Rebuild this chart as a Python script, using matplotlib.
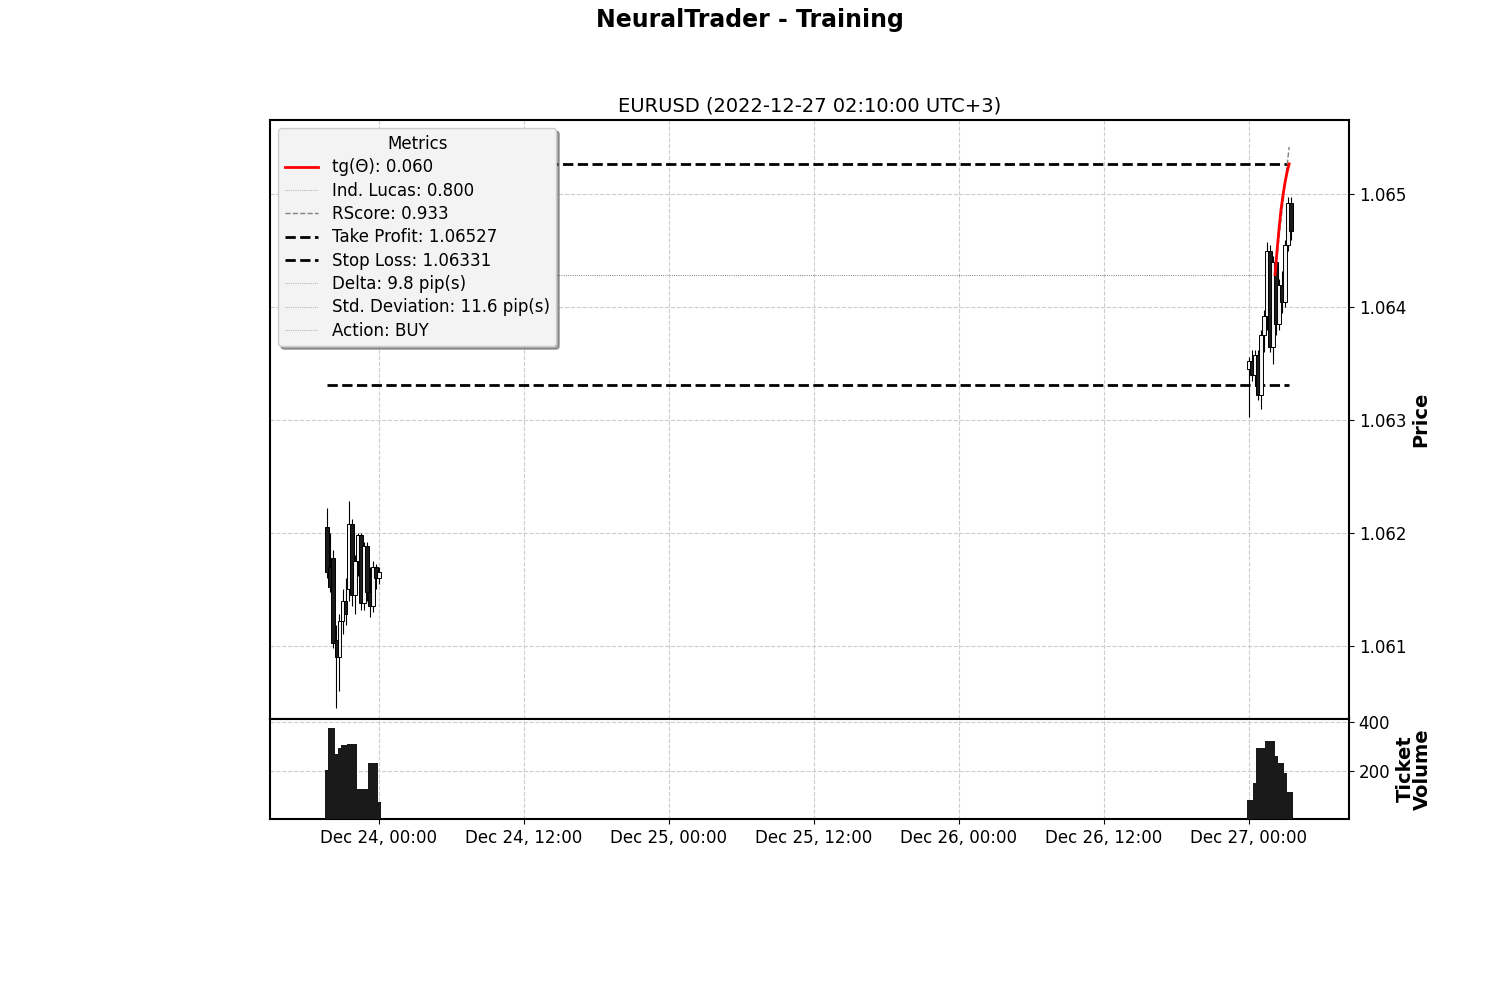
#!/usr/bin/env python3

from datetime import datetime

import numpy as np
import pandas as pd
import matplotlib
matplotlib.use("Agg")
import matplotlib.pyplot as plt
import matplotlib.dates as mdates
from matplotlib.lines import Line2D

# --- candle data (15 min bars) ---
left_start = datetime(2022, 12, 23, 19, 45)
left_open = [1.06205, 1.06170, 1.06178, 1.06105, 1.06090, 1.06122, 1.06140, 1.06150, 1.06208,
             1.06145, 1.06175, 1.06198, 1.06138, 1.06188, 1.06148, 1.06135, 1.06170, 1.06160]
left_high = [1.06222, 1.06200, 1.06185, 1.06118, 1.06128, 1.06150, 1.06160, 1.06228, 1.06212,
             1.06180, 1.06200, 1.06200, 1.06192, 1.06192, 1.06170, 1.06175, 1.06172, 1.06170]
left_low = [1.06160, 1.06148, 1.06098, 1.06045, 1.06060, 1.06110, 1.06118, 1.06140, 1.06135,
            1.06128, 1.06162, 1.06132, 1.06132, 1.06140, 1.06125, 1.06130, 1.06150, 1.06155]
left_close = [1.06165, 1.06152, 1.06102, 1.06090, 1.06122, 1.06140, 1.06128, 1.06208, 1.06145,
              1.06175, 1.06198, 1.06138, 1.06188, 1.06148, 1.06135, 1.06170, 1.06160, 1.06165]
left_volume = [204, 376, 376, 270, 294, 306, 306, 310, 310, 310, 130, 130, 130, 130, 233, 233, 233, 75]

right_start = datetime(2022, 12, 27, 0, 0)
right_open = [1.06345, 1.06352, 1.06340, 1.06358, 1.06322, 1.06375, 1.06392, 1.06450,
              1.06365, 1.06440, 1.06385, 1.06420, 1.06405, 1.06455, 1.06492]
right_high = [1.06356, 1.06362, 1.06362, 1.06362, 1.06380, 1.06398, 1.06458, 1.06455,
              1.06445, 1.06448, 1.06425, 1.06432, 1.06460, 1.06498, 1.06498]
right_low = [1.06303, 1.06335, 1.06330, 1.06318, 1.06310, 1.06360, 1.06380, 1.06360,
             1.06350, 1.06375, 1.06380, 1.06395, 1.06400, 1.06450, 1.06460]
right_close = [1.06352, 1.06340, 1.06358, 1.06322, 1.06375, 1.06392, 1.06450, 1.06365,
               1.06440, 1.06385, 1.06420, 1.06405, 1.06455, 1.06492, 1.06468]
right_volume = [86, 86, 155, 294, 294, 294, 322, 322, 322, 261, 233, 233, 192, 118, 118]

# --- metrics ---
now = datetime(2022, 12, 27, 2, 10)
take_profit = 1.06527
stop_loss = 1.06331
lucas_level = 1.06429
proj_times = pd.date_range(now, periods=8, freq="10min")
tg_values = [1.06429, 1.06450, 1.06470, 1.06487, 1.06500, 1.06511, 1.06520, 1.06527]
rscore_values = [1.06429, 1.06446, 1.06462, 1.06478, 1.06494, 1.06510, 1.06526, 1.06542]

legend_labels = ["tg(\u0398): 0.060", "Ind. Lucas: 0.800", "RScore: 0.933",
                 "Take Profit: 1.06527", "Stop Loss: 1.06331", "Delta: 9.8 pip(s)",
                 "Std. Deviation: 11.6 pip(s)", "Action: BUY"]

BAR = 15 / (24 * 60)  # one bar in days


def draw_candles(ax, t, o, h, l, c):
    x = mdates.date2num(t)
    o, h, l, c = map(np.asarray, (o, h, l, c))
    up = c >= o
    ax.vlines(x, l, h, color="black", linewidth=0.8, zorder=3)
    ax.bar(x, np.abs(c - o), bottom=np.minimum(o, c), width=BAR * 1.3,
           color=np.where(up, "#f2f2f2", "#1a1a1a"), edgecolor="black", linewidth=0.7, zorder=4)


def main():
    left_t = pd.date_range(left_start, periods=len(left_open), freq="15min")
    right_t = pd.date_range(right_start, periods=len(right_open), freq="15min")

    fig = plt.figure(figsize=(15, 10), dpi=100)
    fig.suptitle("NeuralTrader - Training", fontsize=17, fontweight="bold", y=0.992)

    ax = fig.add_axes([0.18, 0.281, 0.7193, 0.599])
    axv = fig.add_axes([0.18, 0.181, 0.7193, 0.1], sharex=ax)

    draw_candles(ax, left_t, left_open, left_high, left_low, left_close)
    draw_candles(ax, right_t, right_open, right_high, right_low, right_close)

    t_first = left_t[0]
    t_last = proj_times[-1]
    ax.plot([t_first, now], [lucas_level, lucas_level], color="#555555", linestyle=":", linewidth=0.6, zorder=2)
    ax.plot([t_first, t_last], [take_profit, take_profit], color="black", linestyle="--", linewidth=2, zorder=2)
    ax.plot([t_first, t_last], [stop_loss, stop_loss], color="black", linestyle="--", linewidth=2, zorder=2)
    ax.plot(proj_times, rscore_values, color="gray", linestyle="--", linewidth=1, zorder=5)
    ax.plot(proj_times, tg_values, color="red", linewidth=2, zorder=6)

    handles = [
        Line2D([], [], color="red", linewidth=2),
        Line2D([], [], color="gray", linestyle=":", linewidth=0.5),
        Line2D([], [], color="gray", linestyle="--", linewidth=1),
        Line2D([], [], color="black", linestyle="--", linewidth=2),
        Line2D([], [], color="black", linestyle="--", linewidth=2),
        Line2D([], [], color="gray", linestyle=":", linewidth=0.5),
        Line2D([], [], color="gray", linestyle=":", linewidth=0.5),
        Line2D([], [], color="gray", linestyle=":", linewidth=0.5),
    ]
    leg = ax.legend(handles, legend_labels, title="Metrics", loc="upper left", fontsize=12,
                    title_fontsize=12, shadow=True, fancybox=True, framealpha=1.0,
                    facecolor="#f3f3f3", labelspacing=0.32)
    leg.set_zorder(10)

    ax.set_title("EURUSD (2022-12-27 02:10:00 UTC+3)", fontsize=14)
    ax.set_ylim(1.06035, 1.06566)
    ax.yaxis.tick_right()
    ax.yaxis.set_label_position("right")
    ax.set_ylabel("Price", fontsize=14, fontweight="bold")
    ax.yaxis.set_major_formatter(plt.FormatStrFormatter("%.3f"))
    ax.grid(True, color="#cccccc", linestyle="--", linewidth=0.8)
    ax.tick_params(axis="x", labelbottom=False, length=0)
    ax.tick_params(axis="y", labelsize=12)

    axv.bar(left_t, left_volume, width=BAR * 1.3, color="#1a1a1a", zorder=3)
    axv.bar(right_t, right_volume, width=BAR * 1.3, color="#1a1a1a", zorder=3)
    axv.set_ylim(8, 412)
    axv.set_yticks([200, 400])
    axv.yaxis.tick_right()
    axv.yaxis.set_label_position("right")
    axv.set_ylabel("Ticket\nVolume", fontsize=14, fontweight="bold", linespacing=0.9)
    axv.grid(True, color="#cccccc", linestyle="--", linewidth=0.8)
    axv.tick_params(labelsize=12)

    axv.set_xlim(datetime(2022, 12, 23, 15, 0), datetime(2022, 12, 27, 8, 17))
    axv.xaxis.set_major_locator(mdates.HourLocator(byhour=[0, 12]))
    axv.xaxis.set_major_formatter(mdates.DateFormatter("%b %d, %H:%M"))

    for a in (ax, axv):
        for s in a.spines.values():
            s.set_linewidth(1.5)

    fig.savefig("out.png", dpi=100)


if __name__ == '__main__':
    main()
